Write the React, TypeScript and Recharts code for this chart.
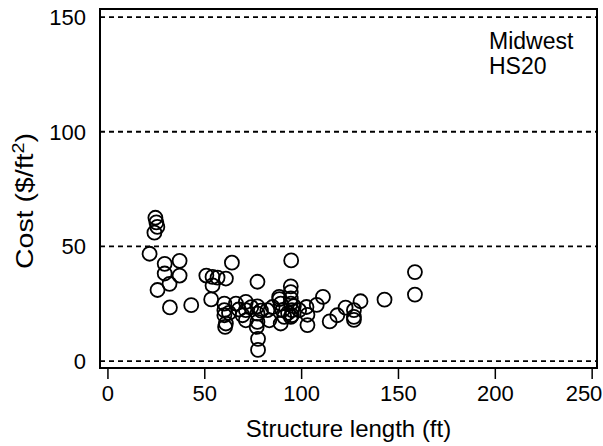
import { ScatterChart, Scatter, XAxis, YAxis, CartesianGrid, ReferenceArea, Label } from "recharts";

// structure length (ft) and cost ($/ft2)
const lengthFt = [
  24.5, 25, 25.5, 24, 21.5, 29.3, 29.3, 37, 37, 31.8, 25.6, 32, 43,
  50.8, 54, 56.6, 60.9, 54, 64, 53.3,
  60.1, 60.1, 60.1, 60.9, 60.5, 62.5,
  66.1, 71.2, 71.2, 69.5, 71.2, 67.5, 74,
  77.2, 77.2, 77.2, 76.8, 77.2, 79, 77.5, 77.5,
  82.3, 83.3, 85,
  88.4, 89.2, 90.1, 89.2, 91, 88.5,
  94.4, 94.4, 94.4, 94.4, 95, 95, 94.4, 94.6, 96, 93,
  98.7, 102.5, 103, 103,
  107.8, 111, 114.5, 118.4, 122.7, 127, 127, 127, 130.4, 142.8, 158.5, 158.5,
];
const costPerSqFt = [
  62.5, 60.5, 58.5, 56, 46.8, 42.4, 38.2, 43.7, 37.3, 33.7, 31, 23.4, 24.4,
  37.3, 36.7, 36.4, 36, 33, 42.9, 26.9,
  25.1, 22.2, 20, 16.4, 14.9, 21,
  25.1, 25.8, 22.2, 20, 17.8, 22.5, 23.5,
  23.9, 20.7, 17.1, 14.9, 34.6, 22, 9.7, 4.9,
  22.2, 17.8, 23.6,
  28, 25.1, 22.2, 16.4, 19.3, 27,
  32.6, 30.1, 27.3, 25.1, 22.2, 20, 19.3, 43.9, 24, 21,
  22.2, 23.6, 20.2, 15.7,
  24.5, 28, 17.3, 20, 23.3, 22.2, 19.3, 18, 26.1, 26.8, 38.8, 29,
];
const xTicks = [0, 50, 100, 150, 200, 250];
const yTicks = [0, 50, 100, 150];

const points = lengthFt.map((x, i) => ({ x, y: costPerSqFt[i] }));

const X_DOMAIN: [number, number] = [-4.1, 252.5];
const Y_DOMAIN: [number, number] = [-3, 153.5];
const FONT = "'Liberation Sans', Arial, Helvetica, sans-serif";

const Ring = (props: any) => (
  <circle cx={props.cx} cy={props.cy} r={7} fill="none" stroke="#000" strokeWidth={1.8} />
);

// keep the last label inside the page, like the original does
const XTick = (props: any) => {
  const { x, y, payload } = props;
  const tx = Math.min(x, 603 - 19);
  return (
    <text x={tx} y={y} dy="0.75em" textAnchor="middle" fontSize={22} fontFamily={FONT} fill="#000">
      {payload.value}
    </text>
  );
};

const CostLabel = () => (
  <text x={33} y={201} transform="rotate(-90 33 201)" textAnchor="middle" fontSize={23} fontFamily={FONT} fill="#000"
    textLength={136} lengthAdjust="spacingAndGlyphs">
    Cost ($/ft<tspan fontSize={16} dy={-9}>2</tspan><tspan dy={9}>)</tspan>
  </text>
);

export default function App() {
  return (
    <div style={{ position: "absolute", left: 0, top: 0, width: 603, height: 446, background: "#fff" }}>
      <ScatterChart width={603} height={446} margin={{ top: 9, right: 6, bottom: 0, left: 0 }}>
        <CartesianGrid vertical={false} stroke="#000" strokeWidth={1.8} strokeDasharray="5 4" />
        <XAxis
          type="number"
          dataKey="x"
          domain={X_DOMAIN}
          ticks={xTicks}
          allowDataOverflow
          height={78}
          axisLine={false}
          tickLine={{ stroke: "#000", strokeWidth: 1.5 }}
          tickSize={11}
          tickMargin={5}
          tick={XTick}
        >
          <Label value="Structure length (ft)" position="insideBottom" offset={9} fill="#000" fontSize={24} fontFamily={FONT} />
        </XAxis>
        <YAxis
          type="number"
          dataKey="y"
          domain={Y_DOMAIN}
          ticks={yTicks}
          allowDataOverflow
          width={100}
          axisLine={false}
          tickLine={false}
          tickSize={0}
          tickMargin={14}
          tick={{ fill: "#000", fontSize: 22, fontFamily: FONT }}
        >
          <Label content={CostLabel} />
        </YAxis>
        <ReferenceArea
          x1={X_DOMAIN[0]}
          x2={X_DOMAIN[1]}
          y1={Y_DOMAIN[0]}
          y2={Y_DOMAIN[1]}
          fill="none"
          fillOpacity={0}
          stroke="#000"
          strokeWidth={2}
          ifOverflow="visible"
        />
        <Scatter data={points} shape={Ring} isAnimationActive={false} />
      </ScatterChart>
      <svg width={603} height={446} style={{ position: "absolute", left: 0, top: 0, pointerEvents: "none" }}>
        <text x={489} y={49} fontSize={23} fontFamily={FONT} fill="#000">Midwest</text>
        <text x={489} y={74} fontSize={23} fontFamily={FONT} fill="#000">HS20</text>
      </svg>
    </div>
  );
}
